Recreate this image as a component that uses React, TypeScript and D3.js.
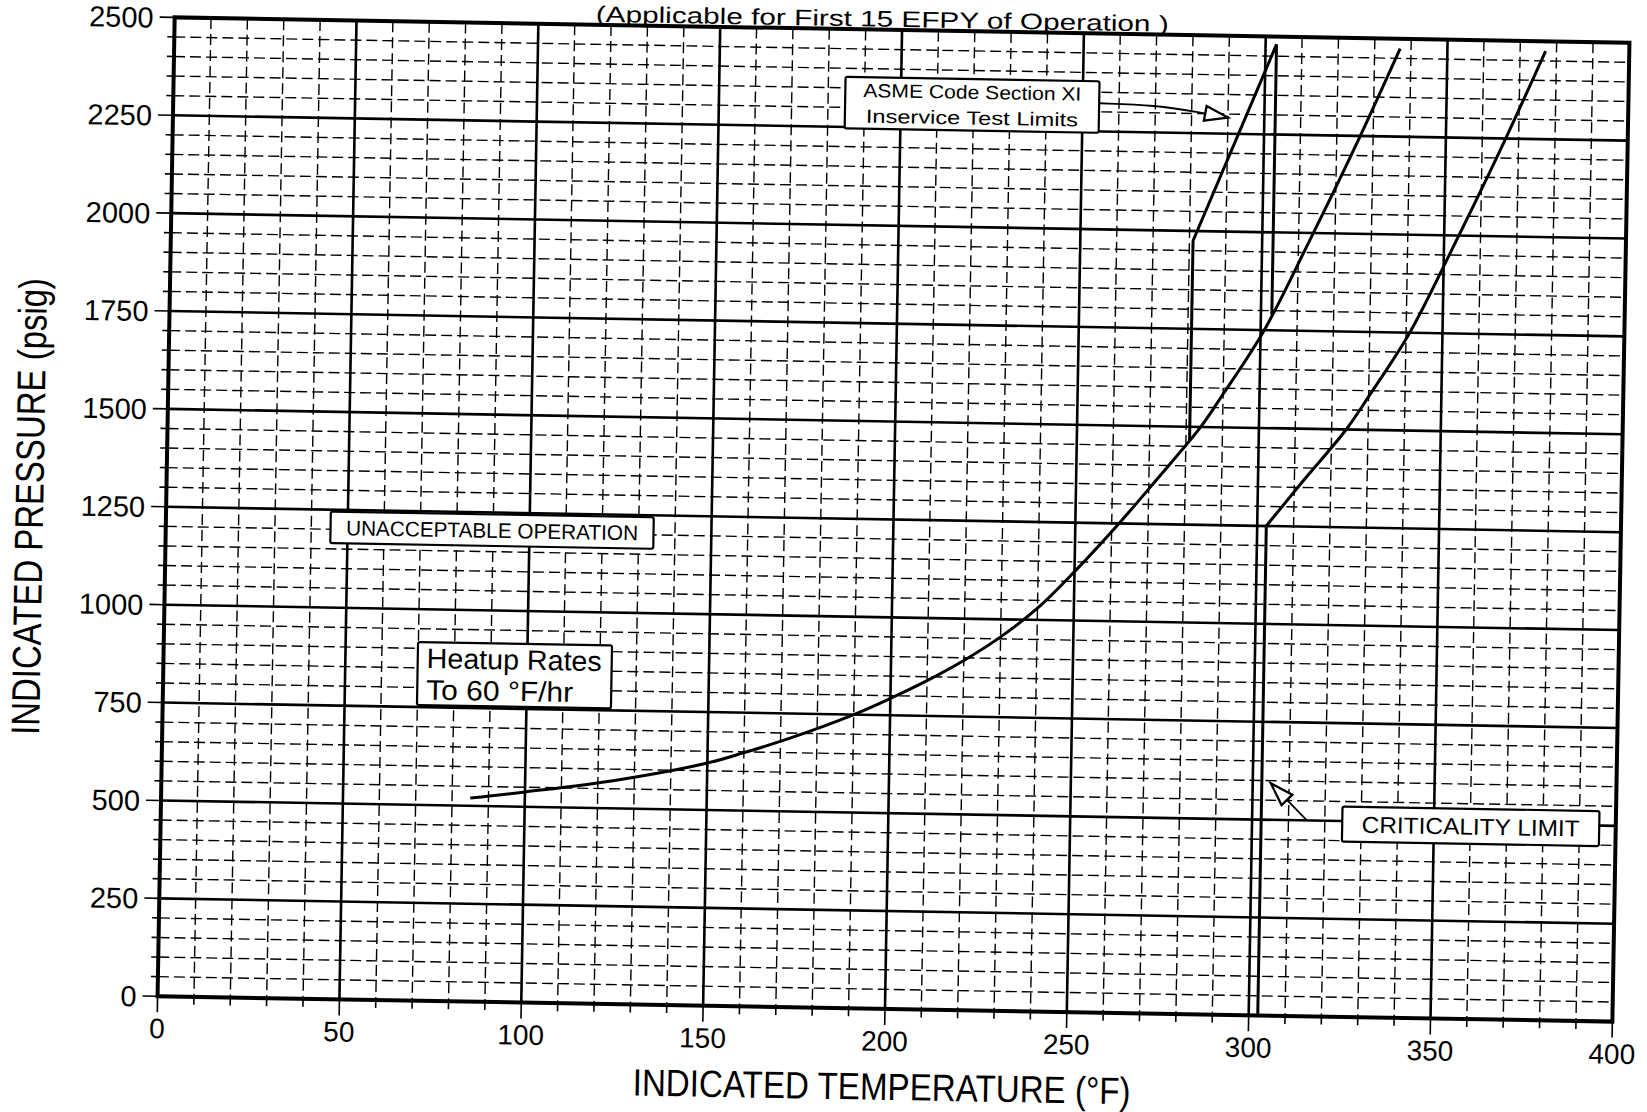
import React, { useEffect, useRef } from 'react';
import * as d3 from 'd3';

// --- chart values ---
const tempTicks = [0, 50, 100, 150, 200, 250, 300, 350, 400];
const pressTicks = [0, 250, 500, 750, 1000, 1250, 1500, 1750, 2000, 2250, 2500];

// heatup limit curve (°F, psig)
const heatupTemp = [85, 100, 125, 150, 160, 172, 190, 200, 210, 220, 230, 240, 250, 262, 272, 284, 290, 301, 313, 325, 337];
const heatupPress = [520, 538, 572, 620, 648, 685, 750, 793, 840, 893, 955, 1030, 1125, 1250, 1362, 1500, 1585, 1750, 1980, 2220, 2475];

// criticality limit: vertical leg + curve
const critLegTemp = [302.5, 302.5];
const critLegPress = [0, 1250];
const critTemp = [302.5, 312, 324, 330, 341, 353, 365, 377];
const critPress = [1250, 1362, 1500, 1585, 1750, 1980, 2220, 2475];

// ASME Section XI inservice test limits
const asmeTemp = [281, 281, 303, 303];
const asmePress = [1465, 1975, 2480, 1790];

// annotation anchors (top-left corner in °F / psig)
const labelBoxes = [
  { t: 45.3, p: 1245, w: 323, h: 31.5, lines: ['UNACCEPTABLE OPERATION'], size: 21, lens: [292], align: 'middle' },
  { t: 69.9, p: 916, w: 194, h: 63, lines: ['Heatup Rates', 'To 60 °F/hr'], size: 28, lens: [175, 147], align: 'start' },
  { t: 324.8, p: 537, w: 257, h: 35, lines: ['CRITICALITY LIMIT'], size: 23, lens: [218], align: 'middle' },
  { t: 184.7, p: 2378, w: 254, h: 51.5, lines: ['ASME Code Section XI', 'Inservice Test Limits'], size: 19, lens: [218, 212], align: 'middle' },
];
const asmeArrowTemp = [254.7, 270, 283, 290];
const asmeArrowPress = [2322, 2320, 2302, 2291];
const critArrowTemp = [315, 305];
const critArrowPress = [501, 593];

const FONT = '"Liberation Sans", Arial, sans-serif';

const App = () => {
  const svgRef = useRef<SVGSVGElement>(null);

  useEffect(() => {
    if (!svgRef.current) return;
    const svg = d3.select(svgRef.current);
    svg.selectAll('*').remove();

    const margin = { top: 30, left: 166 };
    const width = 1455;
    const height = 979;

    const x = d3.scaleLinear().domain([0, 400]).range([0, width]);
    const y = d3.scaleLinear().domain([0, 2500]).range([height, 0]);

    // open triangle arrow head
    const defs = svg.append('defs');
    defs.append('marker')
      .attr('id', 'openHead')
      .attr('markerUnits', 'userSpaceOnUse')
      .attr('markerWidth', 30).attr('markerHeight', 30)
      .attr('viewBox', '-2 -9 26 18')
      .attr('refX', 20).attr('refY', 0)
      .attr('orient', 'auto')
      .append('path')
      .attr('d', 'M0,-6.5L20,0L0,6.5Z')
      .attr('fill', '#fff').attr('stroke', '#000').attr('stroke-width', 2);

    // the scan is tilted about one degree
    const g = svg.append('g')
      .attr('transform', `rotate(1 894 520) translate(${margin.left},${margin.top})`);

    // --- grid ---
    const minorT = d3.range(10, 400, 10).filter(t => t % 50 !== 0);
    const minorP = d3.range(50, 2500, 50).filter(p => p % 250 !== 0);
    g.append('g').selectAll('line').data(minorT).enter().append('line')
      .attr('x1', d => x(d)).attr('x2', d => x(d)).attr('y1', 0).attr('y2', height)
      .attr('stroke', '#000').attr('stroke-width', 1.4).attr('stroke-dasharray', '11,5');
    g.append('g').selectAll('line').data(minorP).enter().append('line')
      .attr('y1', d => y(d)).attr('y2', d => y(d)).attr('x1', 0).attr('x2', width)
      .attr('stroke', '#000').attr('stroke-width', 1.4).attr('stroke-dasharray', '11,5');
    g.append('g').selectAll('line').data(tempTicks.slice(1, -1)).enter().append('line')
      .attr('x1', d => x(d)).attr('x2', d => x(d)).attr('y1', 0).attr('y2', height)
      .attr('stroke', '#000').attr('stroke-width', 2.6);
    g.append('g').selectAll('line').data(pressTicks.slice(1, -1)).enter().append('line')
      .attr('y1', d => y(d)).attr('y2', d => y(d)).attr('x1', 0).attr('x2', width)
      .attr('stroke', '#000').attr('stroke-width', 2.6);

    // --- ticks ---
    g.append('g').selectAll('line').data(d3.range(0, 2501, 50)).enter().append('line')
      .attr('y1', d => y(d)).attr('y2', d => y(d))
      .attr('x1', d => (d % 250 === 0 ? -15 : -7)).attr('x2', 0)
      .attr('stroke', '#000').attr('stroke-width', 1.6);
    g.append('g').selectAll('line').data(d3.range(0, 401, 10)).enter().append('line')
      .attr('x1', d => x(d)).attr('x2', d => x(d))
      .attr('y1', height).attr('y2', d => height + (d % 50 === 0 ? 16 : 8))
      .attr('stroke', '#000').attr('stroke-width', 1.6);

    g.append('rect').attr('x', 0).attr('y', 0).attr('width', width).attr('height', height)
      .attr('fill', 'none').attr('stroke', '#000').attr('stroke-width', 4);

    // --- tick labels ---
    g.append('g').selectAll('text').data(pressTicks).enter().append('text')
      .attr('x', -21).attr('y', d => y(d)).attr('dy', '0.36em')
      .attr('text-anchor', 'end').attr('font-family', FONT).attr('font-size', 29)
      .text(d => d);
    g.append('g').selectAll('text').data(tempTicks).enter().append('text')
      .attr('x', d => x(d)).attr('y', height + 42)
      .attr('text-anchor', 'middle').attr('font-family', FONT).attr('font-size', 28)
      .text(d => d);

    // --- titles ---
    g.append('text').attr('x', width / 2 - 20).attr('y', -3)
      .attr('text-anchor', 'middle').attr('font-family', FONT).attr('font-size', 22.5)
      .attr('textLength', 573).attr('lengthAdjust', 'spacingAndGlyphs')
      .text('(Applicable for First 15 EFPY of Operation )');
    g.append('text').attr('x', width / 2 - 2).attr('y', height + 91)
      .attr('text-anchor', 'middle').attr('font-family', FONT).attr('font-size', 38)
      .attr('textLength', 498).attr('lengthAdjust', 'spacingAndGlyphs')
      .text('INDICATED TEMPERATURE (°F)');
    g.append('text').attr('transform', `translate(-123,${height / 2 + 2}) rotate(-90)`)
      .attr('text-anchor', 'middle').attr('font-family', FONT).attr('font-size', 40)
      .attr('textLength', 457).attr('lengthAdjust', 'spacingAndGlyphs')
      .text('INDICATED PRESSURE (psig)');

    // --- limit curves ---
    const curve = d3.line<[number, number]>().x(d => x(d[0])).y(d => y(d[1])).curve(d3.curveCatmullRom.alpha(0.5));
    const straight = d3.line<[number, number]>().x(d => x(d[0])).y(d => y(d[1]));
    const zip = (a: number[], b: number[]) => a.map((v, i) => [v, b[i]] as [number, number]);

    g.append('path').attr('d', curve(zip(heatupTemp, heatupPress)))
      .attr('fill', 'none').attr('stroke', '#000').attr('stroke-width', 3);
    g.append('path').attr('d', straight(zip(critLegTemp, critLegPress)))
      .attr('fill', 'none').attr('stroke', '#000').attr('stroke-width', 3);
    g.append('path').attr('d', curve(zip(critTemp, critPress)))
      .attr('fill', 'none').attr('stroke', '#000').attr('stroke-width', 3);
    g.append('path').attr('d', straight(zip(asmeTemp, asmePress)))
      .attr('fill', 'none').attr('stroke', '#000').attr('stroke-width', 3).attr('stroke-linejoin', 'miter');

    // --- annotation boxes ---
    labelBoxes.forEach(b => {
      const bx = x(b.t);
      const by = y(b.p);
      g.append('rect').attr('x', bx).attr('y', by).attr('width', b.w).attr('height', b.h)
        .attr('fill', '#fff').attr('stroke', '#000').attr('stroke-width', 2.2).attr('rx', 2);
      const lineGap = b.h / b.lines.length;
      b.lines.forEach((ln, i) => {
        const tx = b.align === 'middle' ? bx + b.w / 2 : bx + 9;
        const ty = by + lineGap * i + lineGap / 2;
        g.append('text').attr('x', tx).attr('y', ty).attr('dy', '0.36em')
          .attr('text-anchor', b.align).attr('font-family', FONT).attr('font-size', b.size)
          .attr('textLength', b.lens[i]).attr('lengthAdjust', 'spacingAndGlyphs')
          .text(ln);
      });
    });

    // --- arrows ---
    g.append('path')
      .attr('d', d3.line<[number, number]>().x(d => x(d[0])).y(d => y(d[1])).curve(d3.curveBasis)(zip(asmeArrowTemp, asmeArrowPress)))
      .attr('fill', 'none').attr('stroke', '#000').attr('stroke-width', 1.8).attr('marker-end', 'url(#openHead)');
    g.append('path').attr('d', straight(zip(critArrowTemp, critArrowPress)))
      .attr('fill', 'none').attr('stroke', '#000').attr('stroke-width', 1.8).attr('marker-end', 'url(#openHead)');
  }, []);

  return (
    <svg
      ref={svgRef}
      width={1647}
      height={1112}
      style={{ position: 'absolute', left: 0, top: 0, background: '#fff', display: 'block' }}
    />
  );
};

export default App;
